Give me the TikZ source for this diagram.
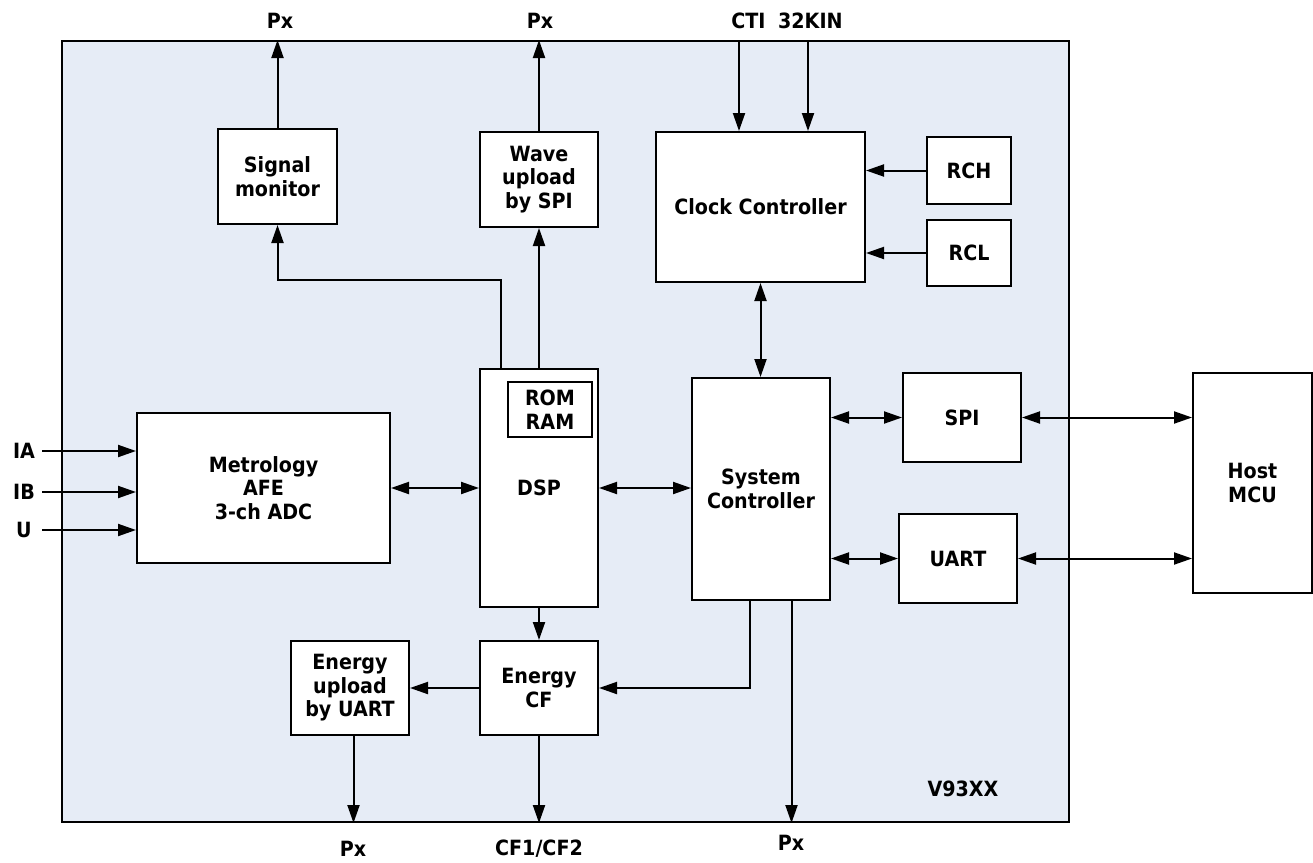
\documentclass[tikz,border=0pt]{standalone}
\usepackage{fontspec}
\usetikzlibrary{arrows.meta}
\newfontfamily\diagfont{DejaVu Sans}[FakeStretch=0.91]
\definecolor{chipblue}{RGB}{230,236,246}
\tikzset{
  blk/.style={draw=black, line width=2pt, fill=white, inner sep=0pt, align=center},
  lbl/.style={inner sep=0pt, align=center},
  conn/.style={line width=2pt, -{Triangle[length=18pt,width=12pt]}},
  bconn/.style={line width=2pt, {Triangle[length=18pt,width=12pt]}-{Triangle[length=18pt,width=12pt]}}
}
\begin{document}
\begin{tikzpicture}[x=1pt,y=-1pt,font=\diagfont\bfseries\fontsize{21}{23.5}\selectfont]
\useasboundingbox (0,0) rectangle (1313,862);
% chip outline
\node[draw=black, line width=2pt, fill=chipblue, minimum width=1007pt, minimum height=781pt, inner sep=0pt] (chip) at (565.5,431.5) {};
% blocks
\node[blk, minimum width=119pt, minimum height=95pt] (sig) at (277.5,176.5) {Signal\\monitor};
\node[blk, minimum width=118pt, minimum height=95pt] (wave) at (539,179.5) {Wave\\upload\\by SPI};
\node[blk, minimum width=118pt, minimum height=238pt] (dsp) at (539,488) {DSP};
\node[blk, minimum width=84pt, minimum height=55pt] (rom) at (550,409.5) {ROM\\RAM};
\node[blk, minimum width=253pt, minimum height=150pt] (met) at (263.5,488) {Metrology\\AFE\\3-ch ADC};
\node[blk, minimum width=118pt, minimum height=94pt] (ecf) at (539,688) {Energy\\CF};
\node[blk, minimum width=118pt, minimum height=94pt] (eup) at (350,688) {Energy\\upload\\by UART};
\node[blk, minimum width=209pt, minimum height=150pt] (clk) at (760.5,207) {Clock Controller};
\node[blk, minimum width=84pt, minimum height=67pt] (rch) at (969,170.5) {RCH};
\node[blk, minimum width=84pt, minimum height=66pt] (rcl) at (969,253) {RCL};
\node[blk, minimum width=138pt, minimum height=222pt] (sys) at (761,489) {System\\Controller};
\node[blk, minimum width=118pt, minimum height=89pt] (spi) at (962,417.5) {SPI};
\node[blk, minimum width=118pt, minimum height=89pt] (uart) at (958,558.5) {UART};
\node[blk, minimum width=119pt, minimum height=220pt] (host) at (1252.5,483) {Host\\MCU};
% labels
\node[lbl] (pxa) at (280,21) {Px};
\node[lbl] (pxb) at (540,21) {Px};
\node[lbl] (clkin) at (787,21) {CTI\hspace{0.6em}32KIN};
\node[lbl] (pxc) at (353,849) {Px};
\node[lbl] (cfo) at (539,849) {CF1/CF2};
\node[lbl] (pxd) at (791,843) {Px};
\node[lbl] (chipname) at (963,789) {V93XX};
\node[lbl] (ia) at (24,451) {IA};
\node[lbl] (ib) at (24,492) {IB};
\node[lbl] (u) at (24,530) {U};
\coordinate (iaS) at (42,451);
\coordinate (ibS) at (42,492);
\coordinate (uS) at (42,530);
\coordinate (ctiS) at (739,41);
\coordinate (kinS) at (808,41);
% connectors
\draw[conn] (sig.north) -- (sig.north |- chip.north);
\draw[conn] (wave.north) -- (wave.north |- chip.north);
\draw[conn] ([xshift=-38.5pt]dsp.north) -- ++(0,-88) -| (sig.south);
\draw[conn] (wave.south |- dsp.north) -- (wave.south);
\draw[bconn] (met.east) -- (dsp.west);
\draw[conn] (dsp.south) -- (ecf.north);
\draw[conn] (ecf.west) -- (eup.east);
\draw[conn] ([xshift=3.5pt]eup.south) -- ([xshift=3.5pt]eup.south |- chip.south);
\draw[conn] (ecf.south) -- (ecf.south |- chip.south);
\draw[conn] (iaS) -- (met.west |- iaS);
\draw[conn] (ibS) -- (met.west |- ibS);
\draw[conn] (uS) -- (met.west |- uS);
\draw[conn] (ctiS) -- (ctiS |- clk.north);
\draw[conn] (kinS) -- (kinS |- clk.north);
\draw[conn] (rch.west) -- (rch.west -| clk.east);
\draw[conn] (rcl.west) -- (rcl.west -| clk.east);
\draw[bconn] (clk.south) -- (clk.south |- sys.north);
\draw[bconn] (dsp.east) -- (dsp.east -| sys.west);
\draw[conn] ([xshift=-11pt]sys.south) |- (ecf.east);
\draw[conn] ([xshift=30.5pt]sys.south) -- ([xshift=30.5pt]sys.south |- chip.south);
\draw[bconn] (sys.east |- spi.west) -- (spi.west);
\draw[bconn] (spi.east) -- (spi.east -| host.west);
\draw[bconn] (sys.east |- uart.west) -- (uart.west);
\draw[bconn] (uart.east) -- (uart.east -| host.west);
\end{tikzpicture}
\end{document}
